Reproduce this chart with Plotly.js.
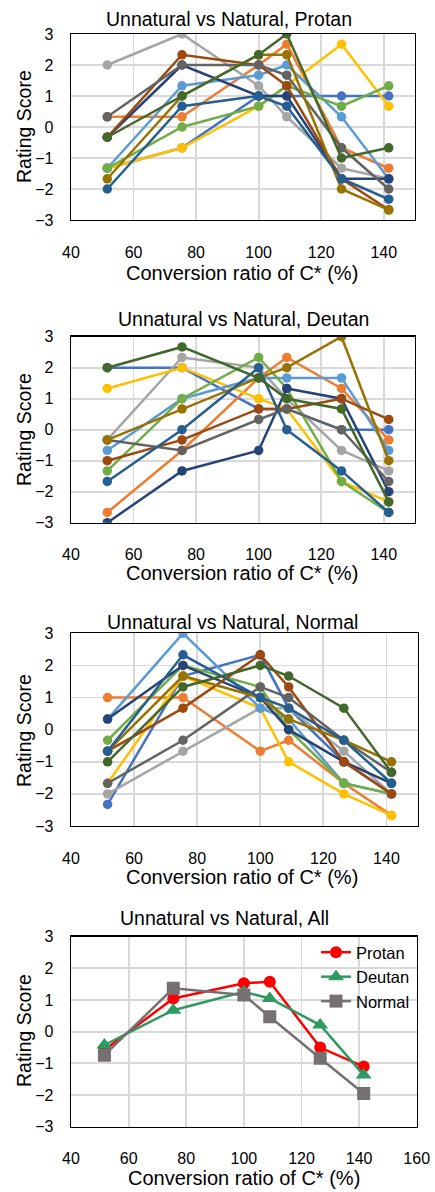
<!DOCTYPE html>
<html><head><meta charset="utf-8">
<script src="https://cdn.plot.ly/plotly-3.0.1.min.js"></script>
<style>html,body{margin:0;padding:0;background:#fff}#chart{width:435px;height:1192px}</style>
</head><body><div id="chart"></div>
<script>
// ---------- data ----------
const conversionRatio = [51.6, 75.5, 100, 109, 126.5, 141.6];
const seriesColors = ['#4472C4','#ED7D31','#A5A5A5','#FFC000','#5B9BD5','#70AD47',
                      '#264478','#9E480E','#636363','#997300','#255E91','#43682B'];
const protanScores = [
  [-1.33, -0.67, 1, 1, 1, 1],
  [0.33, 0.33, 2, 2.67, -0.67, -1.33],
  [2, 3, 1.33, 0.33, -1.33, -1.67],
  [-1.33, -0.67, 0.67, 1.33, 2.67, 0.67],
  [-1.33, 1.33, 1.67, 2, 0.33, -1.67],
  [-1.33, 0, 0.67, 1.33, 0.67, 1.33],
  [-0.33, 2, 1, 1, -1.67, -1.67],
  [-0.33, 2.33, 2, 1.33, -1.67, -2.67],
  [0.33, 2, 2, 1.67, -0.67, -2],
  [-1.67, 1, 2.33, 2.33, -2, -2.67],
  [-2, 0.67, 1, 0.67, -1.67, -2.33],
  [-0.33, 1, 2.33, 3, -1, -0.67]
];
const deutanScores = [
  [2, 2, 0.67, 0.67, 0, 0],
  [-2.67, -0.67, 1.67, 2.33, 1.33, -0.33],
  [-0.33, 2.33, 2, 1, -0.67, -1.33],
  [1.33, 2, 1, 0.67, -1.67, -2.33],
  [-0.67, 1, 1.67, 1.67, 1.67, -0.67],
  [-1.33, 1, 2.33, 1.33, -1.67, -2.67],
  [-3, -1.33, -0.67, 1.33, 1, -2],
  [-1, -0.33, 0.67, 0.67, 1, 0.33],
  [-0.33, -0.67, 0.33, 0.67, 0, -1.67],
  [-0.33, 0.67, 1.67, 2, 3, -1],
  [-1.67, 0, 2, 0, -1.33, -2.67],
  [2, 2.67, 1.67, 1, 0.67, -2.33]
];
const normalScores = [
  [-2.33, 1.67, 2.33, 0.67, -1, -2],
  [1, 1, -0.67, -0.33, -1.67, -2.67],
  [-2, -0.67, 0.67, 0.67, -0.67, -2],
  [-1.67, 1.67, 0.67, -1, -2, -2.67],
  [0.33, 3, 0.67, 0.33, -1.67, -2],
  [-0.33, 2, 1.33, 0, -1.67, -2],
  [0.33, 2, 1, 0, -1, -1.67],
  [-0.67, 0.67, 2.33, 1.33, -1, -2],
  [-1.67, -0.33, 1.33, 1, -0.33, -1.33],
  [-0.67, 1.67, 1, 0.33, -0.33, -1],
  [-0.67, 2.33, 1, 0.67, -0.33, -1.67],
  [-1, 1.33, 2, 1.67, 0.67, -1.33]
];
const groupNames = ['Protan', 'Deutan', 'Normal'];
const allProtan = [-0.58, 1.05, 1.53, 1.58, -0.5, -1.1];
const allDeutan = [-0.42, 0.68, 1.26, 1.05, 0.21, -1.37];
const allNormal = [-0.74, 1.37, 1.16, 0.47, -0.84, -1.95];
const panelTitles = ['Unnatural vs Natural, Protan', 'Unnatural vs Natural, Deutan',
                     'Unnatural vs Natural, Normal', 'Unnatural vs Natural, All'];
const xAxisTitle = 'Conversion ratio of C* (%)';
const yAxisTitle = 'Rating Score';

// ---------- build ----------
const FONT = 'Liberation Sans, Arial, sans-serif';
const traces = [];
[protanScores, deutanScores, normalScores].forEach((panel, p) => {
  const ax = p === 0 ? '' : String(p + 1);
  panel.forEach((ys, i) => {
    traces.push({
      x: conversionRatio, y: ys, type: 'scatter', mode: 'lines+markers',
      xaxis: 'x' + ax, yaxis: 'y' + ax, showlegend: false, hoverinfo: 'skip',
      line: {color: seriesColors[i], width: 2.5},
      marker: {color: seriesColors[i], size: 9.5, symbol: 'circle'}
    });
  });
});
const allSeries = [allProtan, allDeutan, allNormal];
const allColors = ['#FF0000', '#2E9A62', '#767171'];
const allSymbols = ['circle', 'triangle-up', 'square'];
const allSizes = [12, 14, 13];
allSeries.forEach((ys, i) => {
  traces.push({
    x: conversionRatio, y: ys, type: 'scatter', mode: 'lines+markers',
    xaxis: 'x4', yaxis: 'y4', name: groupNames[i], showlegend: true,
    line: {color: allColors[i], width: 2.5},
    marker: {color: allColors[i], size: allSizes[i], symbol: allSymbols[i]}
  });
});

const H = 1192, W = 435;
const px = v => v / W, py = v => 1 - v / H;
function xa(dom, max) {
  return {domain: dom, range: [40, max], dtick: 20, tick0: 40, showgrid: true,
    gridcolor: '#d9d9d9', gridwidth: 1.8, zeroline: false, showline: true,
    linecolor: '#000', linewidth: 1.3, mirror: true, ticks: '', ticklabelstandoff: 17,
    tickfont: {family: FONT, size: 16, color: '#000'}, fixedrange: true};
}
function ya(dom, anchor) {
  return {domain: dom, range: [-3, 3], dtick: 1, tick0: -3, showgrid: true,
    gridcolor: '#d9d9d9', gridwidth: 1.8, zeroline: false, showline: true,
    linecolor: '#000', linewidth: 1.3, mirror: true, ticks: '', ticklabelstandoff: 13,
    tickfont: {family: FONT, size: 16, color: '#000'}, anchor: anchor, fixedrange: true};
}
const layout = {
  width: W, height: H, margin: {l: 0, r: 0, t: 0, b: 0},
  paper_bgcolor: '#fff', plot_bgcolor: '#fff',
  font: {family: FONT, color: '#000'},
  xaxis: Object.assign(xa([px(71), px(415)], 150), {anchor: 'y'}),
  yaxis: ya([py(220), py(34)], 'x'),
  xaxis2: Object.assign(xa([px(71), px(415)], 150), {anchor: 'y2'}),
  yaxis2: ya([py(522.7), py(336.7)], 'x2'),
  xaxis3: Object.assign(xa([px(71), px(418)], 150), {anchor: 'y3'}),
  yaxis3: ya([py(826), py(633.3)], 'x3'),
  xaxis4: Object.assign(xa([px(71), px(416.7)], 160), {anchor: 'y4'}),
  yaxis4: ya([py(1126.7), py(936.7)], 'x4'),
  showlegend: true,
  legend: {x: px(316), y: py(935), xanchor: 'left', yanchor: 'top', bgcolor: 'rgba(255,255,255,0)',
    font: {family: FONT, size: 16.5, color: '#000'}, tracegroupgap: 0},
  annotations: []
};
const titlePos = [[229, 19], [243, 319], [232, 622], [224, 918]];
const yTitlePos = [127, 430, 731, 1031];
const xTitlePos = [[242, 273], [242, 573], [242, 877], [244, 1178]];
for (let i = 0; i < 4; i++) {
  layout.annotations.push({text: panelTitles[i], xref: 'paper', yref: 'paper',
    x: px(titlePos[i][0]), y: py(titlePos[i][1]), xanchor: 'center', yanchor: 'middle',
    showarrow: false, font: {family: FONT, size: 19.5, color: '#000'}});
  layout.annotations.push({text: yAxisTitle, xref: 'paper', yref: 'paper', textangle: -90,
    x: px(24), y: py(yTitlePos[i]), xanchor: 'center', yanchor: 'middle',
    showarrow: false, font: {family: FONT, size: 19.5, color: '#000'}});
  layout.annotations.push({text: xAxisTitle, xref: 'paper', yref: 'paper',
    x: px(xTitlePos[i][0]), y: py(xTitlePos[i][1]), xanchor: 'center', yanchor: 'middle',
    showarrow: false, font: {family: FONT, size: 20, color: '#000'}});
}
Plotly.newPlot('chart', traces, layout, {displayModeBar: false, staticPlot: true});
</script>
</body></html>
